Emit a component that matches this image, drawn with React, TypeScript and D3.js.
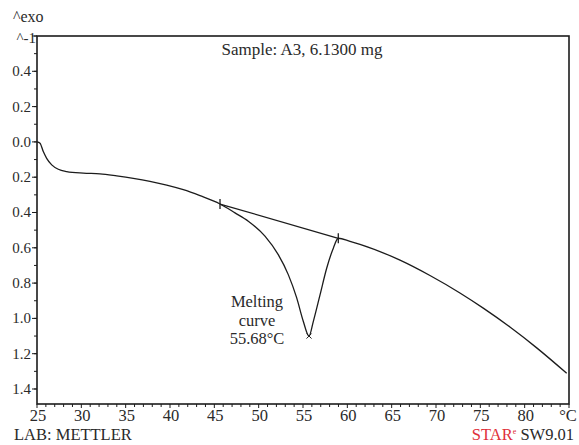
import React from "react";
import * as d3 from "d3";

const temps = [25.0, 25.34, 25.71, 26.09, 26.66, 27.4, 28.35, 30.22, 32.1, 33.99, 35.86, 37.74, 39.63, 41.5, 43.38, 45.64,
  47.33, 48.83, 50.71, 52.21, 53.34, 54.29, 55.03, 55.68, 56.16, 56.92, 57.67, 58.42, 58.98,
  60.3, 61.43, 65.94, 69.32, 72.7, 75.33, 78.34, 81.36, 84.74];
const heatFlow = [0.0, 0.007, 0.055, 0.093, 0.13, 0.155, 0.168, 0.177, 0.181, 0.193, 0.207, 0.224, 0.245, 0.271, 0.305, 0.352,
  0.402, 0.449, 0.534, 0.639, 0.752, 0.884, 1.016, 1.1, 1.018, 0.867, 0.716, 0.602, 0.546,
  0.563, 0.58, 0.67, 0.757, 0.856, 0.942, 1.049, 1.167, 1.311];

const baselineT = [45.64, 58.98];
const baselineV = [0.352, 0.546];
const peakT = [55.68];
const peakV = [1.1];

const yTicksMajor = [-0.6, -0.4, -0.2, 0.0, 0.2, 0.4, 0.6, 0.8, 1.0, 1.2, 1.4];
const yTickLabels = ["^-1", "0.4", "0.2", "0.0", "0.2", "0.4", "0.6", "0.8", "1.0", "1.2", "1.4"];
const xTickLabels = ["25", "30", "35", "40", "45", "50", "55", "60", "65", "70", "75", "80", "°C"];
const xTickValues = [25, 30, 35, 40, 45, 50, 55, 60, 65, 70, 75, 80, 85];

const W = 579, H = 445;
const L = 37, R = 569, T = 36, B = 404;
const INK = "#1c1c1c";
const TXT = "#2a2a2a";

function Txt(props: any) {
  const { children, ...rest } = props;
  return (
    <text fontFamily="Liberation Serif" style={{ fontFamily: "Liberation Serif" }} fill={TXT} {...rest}>
      {children}
    </text>
  );
}

export default function App() {
  const x = d3.scaleLinear().domain([25, 85]).range([L, R]);
  const y = d3.scaleLinear().domain([-0.6, 1.485]).range([T, B]);
  const pts: [number, number][] = temps.map((t, i) => [t, heatFlow[i]]);
  const line = d3.line<[number, number]>().x(d => x(d[0])).y(d => y(d[1])).curve(d3.curveMonotoneX);
  const xMinor = d3.range(25, 86, 1);
  const yMinor = d3.range(-6, 15, 1).map(v => v / 10);

  return (
    <div style={{ position: "absolute", left: 0, top: 0, fontFamily: "Liberation Serif" }}>
      <svg width={W} height={H} fontFamily="Liberation Serif">
        <rect x={0} y={0} width={W} height={H} fill="#fff" />
        <rect x={L} y={T} width={R - L} height={B - T} fill="none" stroke={INK} strokeWidth={1.6} />
        {yMinor.map((v, i) => (
          <line key={"ym" + i} x1={L - 3} x2={L} y1={y(v)} y2={y(v)} stroke={INK} strokeWidth={1} />
        ))}
        {yTicksMajor.map((v, i) => (
          <g key={"yM" + i}>
            <line x1={L - 5} x2={L} y1={y(v)} y2={y(v)} stroke={INK} strokeWidth={1} />
            <Txt x={i === 0 ? L - 1 : L - 6} y={y(v) + 5 + (i === 0 ? 2 : 0)} textAnchor="end" fontSize={15}>
              {yTickLabels[i]}
            </Txt>
          </g>
        ))}
        {xMinor.map((v, i) => (
          <line key={"xm" + i} x1={x(v)} x2={x(v)} y1={B} y2={B + (v % 5 === 0 ? 4 : 3)} stroke={INK} strokeWidth={1} />
        ))}
        {xTickValues.map((v, i) => (
          <Txt key={"xl" + i} x={x(v) + (i === xTickValues.length - 1 ? -1 : 1)} y={421} textAnchor="middle" fontSize={16.5}>
            {xTickLabels[i]}
          </Txt>
        ))}
        <path d={line(pts) || ""} fill="none" stroke={INK} strokeWidth={1.3} />
        <line x1={x(baselineT[0])} y1={y(baselineV[0])} x2={x(baselineT[1])} y2={y(baselineV[1])} stroke={INK} strokeWidth={1.3} />
        {baselineT.map((t, i) => (
          <line key={"bt" + i} x1={x(t)} x2={x(t)} y1={y(baselineV[i]) - 5} y2={y(baselineV[i]) + 5} stroke={INK} strokeWidth={1.3} />
        ))}
        {peakT.map((t, i) => (
          <g key={"pk" + i} stroke={INK} strokeWidth={1}>
            <line x1={x(t) - 2.5} x2={x(t) + 2.5} y1={y(peakV[i]) - 2.5} y2={y(peakV[i]) + 2.5} />
            <line x1={x(t) - 2.5} x2={x(t) + 2.5} y1={y(peakV[i]) + 2.5} y2={y(peakV[i]) - 2.5} />
          </g>
        ))}
        <Txt x={257} y={307} textAnchor="middle" fontSize={16.5}>Melting</Txt>
        <Txt x={257} y={325.5} textAnchor="middle" fontSize={16.5}>curve</Txt>
        <Txt x={257} y={344} textAnchor="middle" fontSize={16.5}>55.68°C</Txt>
        <Txt x={302} y={55} textAnchor="middle" fontSize={17}>Sample: A3, 6.1300 mg</Txt>
        <Txt x={13} y={22} fontSize={16}>^exo</Txt>
        <Txt x={14} y={440} fontSize={16.5}>LAB: METTLER</Txt>
        <Txt x={574} y={440} textAnchor="end" fontSize={16.5}>
          <tspan fill="#e0303a">STAR</tspan>
          <tspan fill="#e0303a" fontSize={8} dy={-6}>e</tspan>
          <tspan dy={6}> SW9.01</tspan>
        </Txt>
      </svg>
    </div>
  );
}
